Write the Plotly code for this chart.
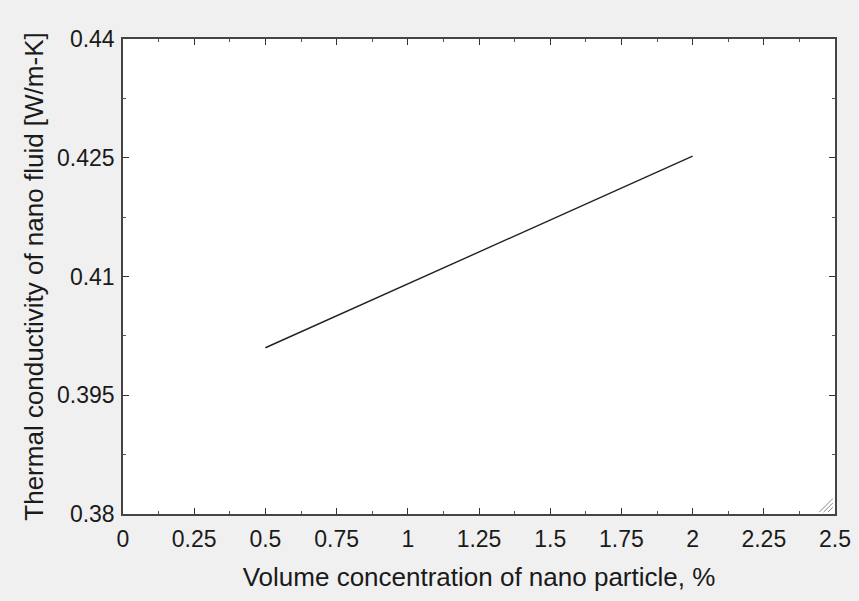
import plotly.graph_objects as go

# Data
concentration = [0.5, 1.0, 1.5, 2.0]
conductivity = [0.4010, 0.4091, 0.4171, 0.4252]

x_ticks = [0, 0.25, 0.5, 0.75, 1, 1.25, 1.5, 1.75, 2, 2.25, 2.5]
x_tick_text = ["0", "0.25", "0.5", "0.75", "1", "1.25", "1.5", "1.75", "2", "2.25", "2.5"]
y_ticks = [0.38, 0.395, 0.41, 0.425, 0.44]
y_tick_text = ["0.38", "0.395", "0.41", "0.425", "0.44"]

fig = go.Figure()
fig.add_trace(go.Scatter(x=concentration, y=conductivity, mode="lines",
                         line=dict(color="#222222", width=1.4), showlegend=False))

font_family = "Liberation Sans, Arial, sans-serif"
fig.update_layout(
    width=859, height=601,
    paper_bgcolor="#f0f0f0", plot_bgcolor="#ffffff",
    margin=dict(l=123, r=24, t=39, b=87, autoexpand=False),
    font=dict(family=font_family, color="#1a1a1a", size=23),
    xaxis=dict(
        range=[0, 2.5], tickvals=x_ticks, ticktext=x_tick_text,
        ticks="inside", ticklen=6, tickcolor="#333", tickwidth=1,
        showline=True, linecolor="#444", linewidth=1.5, mirror="ticks",
        showgrid=False, zeroline=False, automargin=False,
        minor=dict(dtick=0.125, ticks="inside", ticklen=3, tickcolor="#555", showgrid=False),
        title=dict(text="Volume concentration of nano particle, %", font=dict(size=26), standoff=16),
        tickfont=dict(size=23), ticklabelstandoff=4,
    ),
    yaxis=dict(
        range=[0.38, 0.44], tickvals=y_ticks, ticktext=y_tick_text,
        ticks="inside", ticklen=6, tickcolor="#333", tickwidth=1,
        showline=True, linecolor="#444", linewidth=1.5, mirror="ticks",
        showgrid=False, zeroline=False, automargin=False,
        minor=dict(dtick=0.0075, tick0=0.38, ticks="inside", ticklen=3, tickcolor="#555", showgrid=False),
        title=dict(text="Thermal conductivity of nano fluid [W/m-K]", font=dict(size=26), standoff=6),
        tickfont=dict(size=23), ticklabelstandoff=2,
    ),
)

# resize-grip decoration in the lower-right corner
for d in [0.010, 0.016, 0.022]:
    fig.add_shape(type="line", xref="paper", yref="paper",
                  x0=1 - d, y0=0.004, x1=1 - 0.003, y1=0.004 + (d - 0.003) * 712 / 475,
                  line=dict(color="#888888", width=1))

fig.write_html("out.html", config={"displayModeBar": False},
               post_script="document.body.style.margin='0';document.body.style.background='#f0f0f0';")
